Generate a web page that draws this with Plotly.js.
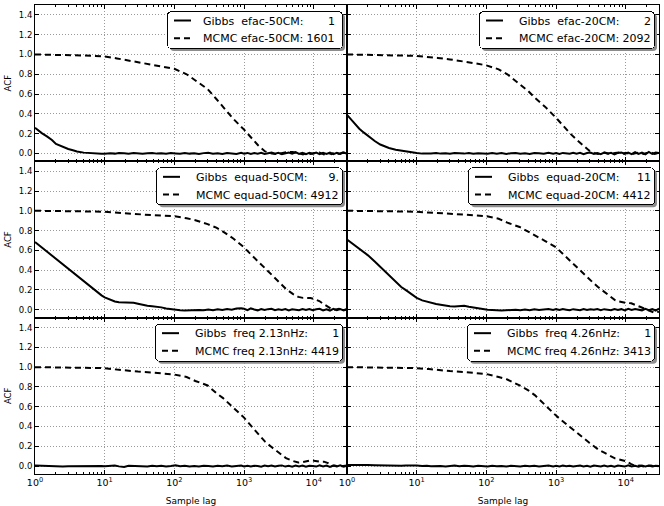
<!DOCTYPE html>
<html><head><meta charset="utf-8">
<script src="https://cdn.plot.ly/plotly-3.0.1.min.js"></script>
<style>html,body{margin:0;padding:0;background:#fff}#chart{width:664px;height:506px}</style>
</head><body><div id="chart"></div>
<script>
// ---- data ----
const lagsGibbs = [1,1.25,1.5,1.75,2,2.5,3,3.5,4,5,6,7,8,9,10,
  12,14,16,19,22,26,30,35,41,48,56,65,76,89,104,
  121,141,165,193,225,263,307,358,418,488,570,666,778,909,1000,
  1120,1250,1400,1570,1760,1970,2210,2480,2780,3110,3490,3910,4380,4900,5490,
  6150,6890,7720,8650,9690,10850,12150,13610,15250,17080,19130,21430,24000,26900,30000];
const lagsMCMC = [1,2,3,5,7,10,15,20,30,50,70,100,150,200,300,400,500,700,1000,1300,
  1600,2000,2500,3000,3500,4000,5000,6000,7000,8000,9000,10000,12000,14000,16000,18000,20000,23000,26000,30000];

const gibbsEfac50 = [0.26,0.205,0.17,0.135,0.095,0.065,0.045,0.032,0.02,0.008,0.003,0.0,-0.003,-0.004,-0.003,
  0.002,-0.002,0.004,0.001,-0.003,0.003,0.0,-0.004,0.002,0.004,-0.002,0.001,-0.004,0.003,0.0,
  -0.003,0.004,-0.002,0.002,-0.005,0.003,0.006,-0.004,0.002,-0.006,0.004,0.0,-0.005,0.006,-0.003,
  0.005,-0.006,0.003,-0.002,0.007,-0.005,0.002,0.008,-0.004,0.006,-0.007,0.004,0.009,-0.003,0.012,
  -0.006,0.005,-0.008,0.007,-0.004,0.008,-0.007,0.006,-0.005,0.009,-0.008,0.007,-0.006,0.01,-0.004];
const gibbsEfac20 = [0.39,0.31,0.25,0.21,0.175,0.125,0.09,0.07,0.055,0.038,0.028,0.022,0.017,0.01,0.005,
  -0.002,-0.004,0.0,0.003,-0.002,0.002,-0.003,0.004,0.001,-0.002,0.003,-0.004,0.002,0.0,-0.003,
  0.004,-0.002,0.003,-0.005,0.002,0.005,-0.003,0.001,-0.006,0.004,0.002,-0.004,0.006,-0.002,0.003,
  -0.006,0.005,0.001,-0.004,0.007,-0.003,0.006,-0.007,0.004,0.008,-0.005,0.003,-0.008,0.009,-0.004,
  0.007,-0.009,0.005,0.01,-0.006,0.008,-0.007,0.012,-0.005,0.009,-0.01,0.015,-0.006,0.008,0.003];
const gibbsEquad50 = [0.685,0.63,0.585,0.547,0.515,0.46,0.415,0.377,0.345,0.29,0.245,0.205,0.17,0.145,0.125,
  0.1,0.084,0.075,0.072,0.075,0.07,0.06,0.048,0.04,0.035,0.03,0.024,0.012,0.005,-0.004,
  -0.006,-0.008,-0.004,-0.007,-0.002,-0.006,0.002,-0.004,0.006,-0.002,0.008,0.0,0.012,0.015,0.01,
  -0.004,0.014,0.002,-0.006,0.008,-0.003,0.006,0.01,-0.005,0.004,-0.002,0.007,-0.006,0.005,0.001,
  -0.004,0.006,-0.003,0.008,-0.005,0.004,0.009,-0.006,0.005,-0.008,0.01,-0.004,0.006,-0.007,0.005];
const gibbsEquad20 = [0.71,0.66,0.617,0.58,0.55,0.487,0.435,0.393,0.351,0.284,0.23,0.198,0.17,0.145,0.12,
  0.095,0.08,0.068,0.058,0.05,0.04,0.035,0.032,0.035,0.04,0.03,0.025,0.02,0.008,0.0,
  -0.005,-0.004,-0.007,-0.003,-0.006,0.0,-0.004,0.003,-0.005,0.005,-0.002,0.004,0.008,-0.003,0.006,
  -0.002,0.007,0.001,-0.005,0.006,0.002,-0.004,0.008,-0.003,0.005,0.0,0.007,-0.004,0.006,0.002,
  -0.005,0.008,-0.002,0.006,-0.006,0.009,-0.003,0.007,0.001,-0.006,0.01,-0.004,0.007,-0.008,0.012];
const gibbsFreq213 = [0.005,0.002,0.0,-0.003,-0.004,-0.003,-0.001,0.0,0.002,0.003,0.004,0.004,0.003,0.0,-0.002,
  0.0,0.006,-0.003,-0.008,0.004,0.002,0.006,0.0,-0.004,0.003,-0.002,0.004,-0.003,0.002,0.008,
  -0.002,0.003,-0.004,0.002,-0.003,0.004,0.0,-0.005,0.003,-0.002,0.005,-0.004,0.002,0.006,-0.003,
  0.004,-0.005,0.003,0.0,-0.006,0.005,-0.002,0.006,-0.004,0.003,0.007,-0.005,0.002,-0.006,0.006,
  -0.003,0.005,-0.007,0.004,0.0,-0.005,0.007,-0.004,0.005,-0.008,0.006,-0.003,0.008,-0.006,0.003];
const gibbsFreq426 = [0.01,0.012,0.012,0.011,0.01,0.008,0.006,0.004,0.0,-0.002,0.003,0.005,0.007,0.002,0.006,
  0.0,0.004,-0.002,0.003,0.001,-0.004,0.002,0.005,-0.002,0.003,0.0,-0.005,0.003,0.001,-0.003,
  0.004,-0.002,0.002,-0.004,0.003,0.0,-0.005,0.004,-0.002,0.003,-0.004,0.002,0.005,-0.003,0.002,
  -0.004,0.005,-0.002,0.004,-0.005,0.003,0.006,-0.004,0.002,-0.006,0.005,0.0,-0.005,0.006,-0.003,
  0.004,-0.006,0.005,0.0,-0.005,0.007,-0.004,0.003,-0.006,0.005,-0.003,0.006,-0.005,0.004,0.002];

const mcmcEfac50 = [1.0,0.998,0.995,0.99,0.985,0.98,0.96,0.945,0.92,0.89,0.875,0.855,0.80,0.735,0.65,0.55,0.47,0.35,0.24,0.15,
  0.08,0.02,0.0,-0.008,0.006,0.012,0.015,0.0,-0.01,0.006,-0.005,0.002,0.01,-0.01,0.005,-0.008,0.012,-0.005,0.008,0.0];
const mcmcEfac20 = [1.0,0.998,0.995,0.99,0.988,0.985,0.975,0.965,0.95,0.93,0.91,0.89,0.85,0.80,0.70,0.63,0.56,0.47,0.36,0.27,
  0.20,0.135,0.075,0.028,0.005,-0.005,0.008,-0.006,0.004,0.01,-0.004,0.006,-0.008,0.005,0.012,-0.006,0.004,0.009,-0.005,0.006];
const mcmcEquad50 = [1.0,1.0,0.998,0.995,0.993,0.99,0.98,0.975,0.965,0.955,0.95,0.945,0.925,0.905,0.865,0.83,0.79,0.72,0.63,0.545,
  0.485,0.42,0.35,0.295,0.25,0.21,0.16,0.13,0.12,0.12,0.118,0.11,0.088,0.055,0.025,0.008,0.0,0.01,-0.005,0.005];
const mcmcEquad20 = [1.0,1.0,0.998,0.995,0.993,0.99,0.985,0.98,0.97,0.96,0.955,0.945,0.92,0.88,0.837,0.79,0.755,0.694,0.63,0.554,
  0.49,0.42,0.358,0.307,0.265,0.23,0.174,0.13,0.098,0.085,0.075,0.07,0.065,0.05,0.03,0.015,0.0,-0.015,-0.03,-0.02];
const mcmcFreq213 = [1.0,0.998,0.997,0.995,0.993,0.99,0.975,0.965,0.955,0.945,0.935,0.925,0.90,0.86,0.815,0.737,0.687,0.596,0.49,0.396,
  0.32,0.247,0.19,0.145,0.105,0.08,0.052,0.036,0.04,0.05,0.057,0.055,0.045,0.045,0.03,0.0,0.005,-0.005,0.0,0.005];
const mcmcFreq426 = [1.0,0.998,0.997,0.995,0.993,0.99,0.98,0.97,0.96,0.95,0.94,0.93,0.90,0.875,0.815,0.765,0.715,0.615,0.51,0.443,
  0.39,0.33,0.278,0.236,0.20,0.17,0.133,0.10,0.078,0.068,0.058,0.05,0.02,0.0,0.005,-0.005,0.0,0.005,-0.005,0.0];

const S = '\u00a0';
const gibbsLabels = [
  'Gibbs'+S+S+'efac-50CM:'+S.repeat(7)+'1',
  'Gibbs'+S+S+'efac-20CM:'+S.repeat(7)+'2',
  'Gibbs'+S+S+'equad-50CM:'+S.repeat(6)+'9.',
  'Gibbs'+S+S+'equad-20CM:'+S.repeat(5)+'11',
  'Gibbs'+S+S+'freq'+S+'2.13nHz:'+S.repeat(7)+'1',
  'Gibbs'+S+S+'freq'+S+'4.26nHz:'+S.repeat(7)+'1'];
const mcmcLabels = [
  'MCMC'+S+'efac-50CM:'+S+'1601',
  'MCMC'+S+'efac-20CM:'+S+'2092',
  'MCMC'+S+'equad-50CM:'+S+'4912',
  'MCMC'+S+'equad-20CM:'+S+'4412',
  'MCMC'+S+'freq'+S+'2.13nHz:'+S+'4419',
  'MCMC'+S+'freq'+S+'4.26nHz:'+S+'3413'];

const gibbsSeries = [gibbsEfac50, gibbsEfac20, gibbsEquad50, gibbsEquad20, gibbsFreq213, gibbsFreq426];
const mcmcSeries = [mcmcEfac50, mcmcEfac20, mcmcEquad50, mcmcEquad20, mcmcFreq213, mcmcFreq426];

const xTickVals = [1, 10, 100, 1000, 10000];
const xTickText = ['10<sup>0</sup>', '10<sup>1</sup>', '10<sup>2</sup>', '10<sup>3</sup>', '10<sup>4</sup>'];
const yTickVals = [0, 0.2, 0.4, 0.6, 0.8, 1.0, 1.2, 1.4];
const yTickText = ['0.0', '0.2', '0.4', '0.6', '0.8', '1.0', '1.2', '1.4'];
const xMax = 30000;

// ---- build ----
const FONT = 'DejaVu Sans, Bitstream Vera Sans, sans-serif';
const minorVals = [];
for (let d = 1; d <= 10000; d *= 10) for (let k = 2; k <= 9; k++) minorVals.push(k * d);

const data = [];
const layout = {
  width: 664, height: 506,
  margin: {l: 35, r: 5, t: 5, b: 32},
  paper_bgcolor: '#fff', plot_bgcolor: '#fff',
  font: {family: FONT, color: '#000', size: 9},
  showlegend: true
};
const legendPos = [
  {x: 0.4936, y: 0.9857}, {x: 0.991, y: 0.9878},
  {x: 0.4936, y: 0.652}, {x: 0.991, y: 0.652},
  {x: 0.4936, y: 0.322}, {x: 0.991, y: 0.322}];

for (let i = 0; i < 6; i++) {
  const row = Math.floor(i / 2), col = i % 2;
  const sfx = i === 0 ? '' : String(i + 1);
  const lg = i === 0 ? 'legend' : 'legend' + (i + 1);
  data.push({x: lagsGibbs, y: gibbsSeries[i], type: 'scatter', mode: 'lines', name: gibbsLabels[i],
    xaxis: 'x' + sfx, yaxis: 'y' + sfx, legend: lg,
    line: {color: '#000', width: 2}});
  data.push({x: lagsMCMC, y: mcmcSeries[i], type: 'scatter', mode: 'lines', name: mcmcLabels[i],
    xaxis: 'x' + sfx, yaxis: 'y' + sfx, legend: lg,
    line: {color: '#000', width: 2, dash: '6px,4px'}});
  const common = {
    showline: true, linecolor: '#000', linewidth: 1, mirror: 'allticks',
    ticks: 'inside', ticklen: 4, tickwidth: 1, tickcolor: '#000',
    showgrid: true, gridcolor: '#9a9a9a', gridwidth: 1, griddash: '1px,2px',
    zeroline: false
  };
  const xa = Object.assign({}, common, {
    type: 'log', range: [0, Math.log10(xMax)],
    domain: col === 0 ? [0, 0.5] : [0.5, 1],
    anchor: 'y' + sfx,
    tickmode: 'array', tickvals: xTickVals, ticktext: xTickText,
    showticklabels: row === 2,
    tickfont: {size: 9.5, family: FONT, color: '#000'},
    minor: {tickmode: 'array', tickvals: minorVals, ticks: 'inside', ticklen: 2, tickcolor: '#000', showgrid: false}
  });
  if (row === 2) xa.title = {text: 'Sample lag', font: {size: 9, family: FONT}, standoff: 10};
  layout['xaxis' + sfx] = xa;
  const ya = Object.assign({}, common, {
    range: [-0.08, 1.5],
    domain: [(2 - row) / 3, (3 - row) / 3],
    anchor: 'x' + sfx,
    tickmode: 'array', tickvals: yTickVals, ticktext: yTickText,
    showticklabels: col === 0,
    tickfont: {size: 8.5, family: FONT, color: '#000'}
  });
  if (col === 0) ya.title = {text: 'ACF', font: {size: 8.5, family: FONT}, standoff: 5};
  layout['yaxis' + sfx] = ya;
  layout[lg] = {
    x: legendPos[i].x, y: legendPos[i].y, xanchor: 'right', yanchor: 'top',
    bgcolor: '#fff', bordercolor: '#000', borderwidth: 1,
    font: {size: 11, family: FONT, color: '#000'},
    tracegroupgap: 0, itemwidth: 30
  };
}

// compact the legends to matplotlib proportions, with a drop shadow and rounded corners
const measureCtx = document.createElement('canvas').getContext('2d');
measureCtx.font = '11px "DejaVu Sans"';
function styleLegends(gd) {
  const sz = gd._fullLayout._size;
  gd.querySelectorAll('.infolayer rect.bg').forEach(bg => {
    const g = bg.parentNode;
    const id = (g.getAttribute('class') || '').split(' ')[0];
    const idx = id === 'legend' ? 0 : parseInt(id.replace('legend', ''), 10) - 1;
    if (isNaN(idx) || idx < 0 || idx > 5) return;
    const row = Math.floor(idx / 2), col = idx % 2;
    const rowsY = [9.5, 27.2];
    const textW = Math.max(measureCtx.measureText(gibbsLabels[idx]).width,
                           measureCtx.measureText(mcmcLabels[idx]).width);
    g.querySelectorAll('g.traces').forEach((t, k) => {
      t.setAttribute('transform', 'translate(0,' + (rowsY[k] || 0) + ')');
      const txt = t.querySelector('text.legendtext');
      if (txt) {
        txt.setAttribute('x', 36);
        txt.querySelectorAll('tspan.line').forEach(ts => ts.setAttribute('x', 36));
      }
      t.querySelectorAll('.legendlines path').forEach(p => p.setAttribute('d', 'M7,0h17'));
    });
    const sb = g.querySelector('g.scrollbox');
    if (sb) { sb.removeAttribute('clip-path'); sb.setAttribute('transform', 'translate(0,0)'); }
    g.querySelectorAll('g.groups').forEach(gr => gr.setAttribute('transform', 'translate(0,0)'));
    const w = Math.round(36 + textW + 7), h = 37;
    bg.setAttribute('x', 0.5); bg.setAttribute('y', 0.5);
    bg.setAttribute('width', w); bg.setAttribute('height', h);
    bg.setAttribute('rx', 4); bg.setAttribute('ry', 4);
    let sh = g.querySelector('rect.lgshadow');
    if (!sh) {
      sh = document.createElementNS('http://www.w3.org/2000/svg', 'rect');
      sh.setAttribute('class', 'lgshadow');
      g.insertBefore(sh, bg);
    }
    sh.setAttribute('x', 3); sh.setAttribute('y', 3);
    sh.setAttribute('width', w); sh.setAttribute('height', h);
    sh.setAttribute('rx', 4); sh.setAttribute('ry', 4);
    sh.setAttribute('style', 'fill:#8c8c8c;stroke:none');
    const right = sz.l + sz.w * (col === 0 ? 0.5 : 1) - 5;
    const top = sz.t + sz.h * (row / 3) + 6;
    g.setAttribute('transform', 'translate(' + (right - w) + ',' + top + ')');
  });
}

Plotly.newPlot('chart', data, layout, {staticPlot: true}).then(gd => {
  styleLegends(gd);
  requestAnimationFrame(() => styleLegends(gd));
  setTimeout(() => styleLegends(gd), 30);
  setTimeout(() => styleLegends(gd), 200);
});
</script>
</body></html>
